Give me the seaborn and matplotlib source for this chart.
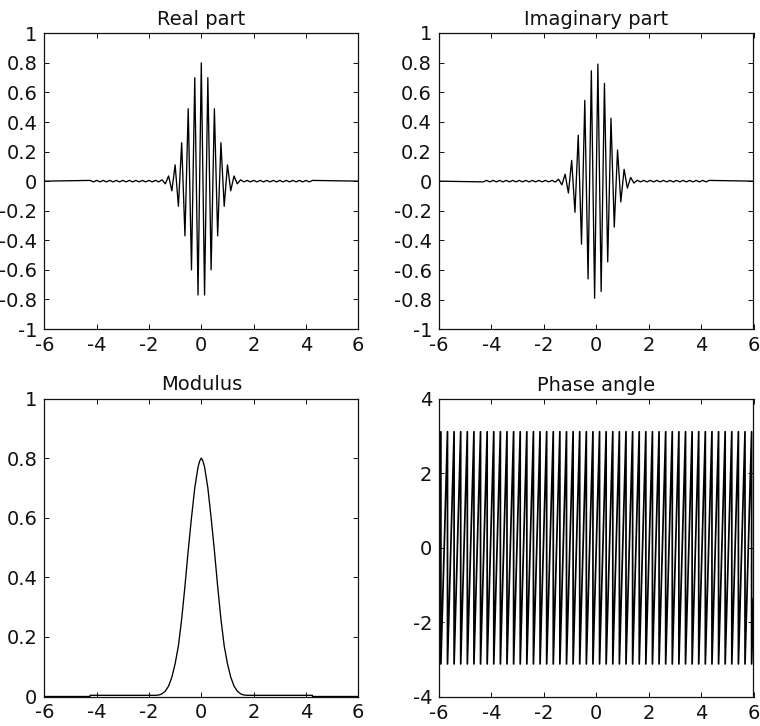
import matplotlib
matplotlib.use("Agg")
import numpy as np
import pandas as pd
import matplotlib.pyplot as plt
import seaborn as sns

# ---------------- data ----------------
# Real part: extrema of the oscillation (every half period), plus flat ends
real_x = [-6.0,
          -4.25, -4.125, -4.0, -3.875, -3.75, -3.625, -3.5, -3.375, -3.25, -3.125,
          -3.0, -2.875, -2.75, -2.625, -2.5, -2.375, -2.25, -2.125, -2.0, -1.875,
          -1.75, -1.625, -1.5, -1.375, -1.25, -1.125, -1.0, -0.875, -0.75, -0.625,
          -0.5, -0.375, -0.25, -0.125, 0.0, 0.125, 0.25, 0.375, 0.5, 0.625,
          0.75, 0.875, 1.0, 1.125, 1.25, 1.375, 1.5, 1.625, 1.75, 1.875,
          2.0, 2.125, 2.25, 2.375, 2.5, 2.625, 2.75, 2.875, 3.0, 3.125,
          3.25, 3.375, 3.5, 3.625, 3.75, 3.875, 4.0, 4.125, 4.25, 6.0]
real_y = [0.0,
          0.005, -0.005, 0.005, -0.005, 0.005, -0.005, 0.005, -0.005, 0.005, -0.005,
          0.005, -0.005, 0.005, -0.005, 0.005, -0.005, 0.005, -0.005, 0.005, -0.005,
          0.005, -0.005, 0.009, -0.018, 0.035, -0.065, 0.11, -0.17, 0.26, -0.37,
          0.49, -0.60, 0.70, -0.77, 0.80, -0.77, 0.70, -0.60, 0.49, -0.37,
          0.26, -0.17, 0.11, -0.065, 0.035, -0.018, 0.009, -0.005, 0.005, -0.005,
          0.005, -0.005, 0.005, -0.005, 0.005, -0.005, 0.005, -0.005, 0.005, -0.005,
          0.005, -0.005, 0.005, -0.005, 0.005, -0.005, 0.005, -0.005, 0.005, 0.0]

# Imaginary part: extrema of the oscillation, plus flat ends
imag_x = [-6.0,
          -4.3125, -4.1875, -4.0625, -3.9375, -3.8125, -3.6875, -3.5625, -3.4375, -3.3125, -3.1875,
          -3.0625, -2.9375, -2.8125, -2.6875, -2.5625, -2.4375, -2.3125, -2.1875, -2.0625, -1.9375,
          -1.8125, -1.6875, -1.5625, -1.4375, -1.3125, -1.1875, -1.0625, -0.9375, -0.8125, -0.6875,
          -0.5625, -0.4375, -0.3125, -0.1875, -0.0625, 0.0625, 0.1875, 0.3125, 0.4375, 0.5625,
          0.6875, 0.8125, 0.9375, 1.0625, 1.1875, 1.3125, 1.4375, 1.5625, 1.6875, 1.8125,
          1.9375, 2.0625, 2.1875, 2.3125, 2.4375, 2.5625, 2.6875, 2.8125, 2.9375, 3.0625,
          3.1875, 3.3125, 3.4375, 3.5625, 3.6875, 3.8125, 3.9375, 4.0625, 4.1875, 4.3125,
          6.0]
imag_y = [0.0,
          -0.005, 0.005, -0.005, 0.005, -0.005, 0.005, -0.005, 0.005, -0.005, 0.005,
          -0.005, 0.005, -0.005, 0.005, -0.005, 0.005, -0.005, 0.005, -0.005, 0.005,
          -0.005, 0.005, -0.006, 0.013, -0.025, 0.047, -0.08, 0.14, -0.21, 0.31,
          -0.425, 0.545, -0.66, 0.745, -0.79, 0.79, -0.745, 0.66, -0.545, 0.425,
          -0.31, 0.21, -0.14, 0.08, -0.047, 0.025, -0.013, 0.006, -0.005, 0.005,
          -0.005, 0.005, -0.005, 0.005, -0.005, 0.005, -0.005, 0.005, -0.005, 0.005,
          -0.005, 0.005, -0.005, 0.005, -0.005, 0.005, -0.005, 0.005, -0.005, 0.005,
          0.0]

# Modulus samples
mod_x = [-6.0, -4.25, -4.25, -1.75, -1.625, -1.5, -1.375, -1.25, -1.125, -1.0,
         -0.875, -0.75, -0.625, -0.5, -0.375, -0.25, -0.125, -0.0625, 0.0, 0.0625,
         0.125, 0.25, 0.375, 0.5, 0.625, 0.75, 0.875, 1.0, 1.125, 1.25,
         1.375, 1.5, 1.625, 1.75, 4.25, 4.25, 6.0]
mod_y = [0.0, 0.0, 0.004, 0.004, 0.005, 0.009, 0.018, 0.035, 0.065, 0.11,
         0.17, 0.26, 0.37, 0.49, 0.60, 0.70, 0.77, 0.79, 0.80, 0.79,
         0.77, 0.70, 0.60, 0.49, 0.37, 0.26, 0.17, 0.11, 0.065, 0.035,
         0.018, 0.009, 0.005, 0.004, 0.004, 0.0, 0.0]

# Phase angle: positions where the phase wraps from +pi to -pi
phase_wrap_x = [-5.928, -5.676, -5.424, -5.172, -4.919, -4.667, -4.415, -4.162,
                -3.910, -3.658, -3.406, -3.153, -2.901, -2.649, -2.397, -2.144,
                -1.892, -1.640, -1.388, -1.135, -0.883, -0.631, -0.378, -0.126,
                0.126, 0.378, 0.631, 0.883, 1.135, 1.388, 1.640, 1.892,
                2.144, 2.397, 2.649, 2.901, 3.153, 3.406, 3.658, 3.910,
                4.162, 4.415, 4.667, 4.919, 5.172, 5.424, 5.676, 5.928]
phase_high = 3.12
phase_low = -3.12
phase_left = 1.40
phase_right = -1.35

x_ticks = [-6, -4, -2, 0, 2, 4, 6]
ri_ticks = [-1, -0.8, -0.6, -0.4, -0.2, 0, 0.2, 0.4, 0.6, 0.8, 1]
ri_labels = ["-1", "-0.8", "-0.6", "-0.4", "-0.2", "0", "0.2", "0.4", "0.6", "0.8", "1"]
mod_ticks = [0, 0.2, 0.4, 0.6, 0.8, 1]
mod_labels = ["0", "0.2", "0.4", "0.6", "0.8", "1"]
ph_ticks = [-4, -2, 0, 2, 4]
ph_labels = ["-4", "-2", "0", "2", "4"]

# build the phase polyline from the wrap positions
ph_x = [-6.0]
ph_y = [phase_left]
for w in phase_wrap_x:
    ph_x += [w, w]
    ph_y += [phase_high, phase_low]
ph_x.append(6.0)
ph_y.append(phase_right)

# ---------------- style ----------------
sns.set_theme(style="ticks")
plt.rcParams['font.family'] = ['DejaVu Sans']
plt.rcParams['axes.unicode_minus'] = False

fig = plt.figure(figsize=(7.6, 7.26), dpi=100)
W, H = 760.0, 726.0

def make_ax(l, r, t, b):
    return fig.add_axes([l / W, 1 - b / H, (r - l) / W, (b - t) / H])

ax1 = make_ax(44.3, 358.3, 33.3, 329.0)
ax2 = make_ax(439.0, 753.5, 33.0, 329.3)
ax3 = make_ax(44.3, 358.3, 398.5, 696.5)
ax4 = make_ax(439.0, 753.5, 399.0, 696.7)

def draw(ax, x, y, title, yticks, ylabels, ylim, lw=0.95):
    df = pd.DataFrame({"x": x, "y": y})
    sns.lineplot(data=df, x="x", y="y", ax=ax, sort=False, estimator=None,
                 color="black", linewidth=lw)
    ax.set_xlim(-6, 6)
    ax.set_ylim(*ylim)
    ax.set_xticks(x_ticks)
    ax.set_xticklabels([str(v) for v in x_ticks])
    ax.set_yticks(yticks)
    ax.set_yticklabels(ylabels)
    ax.set_xlabel("")
    ax.set_ylabel("")
    ax.set_title(title, fontsize=14, pad=6, color="#111111")
    ax.tick_params(direction="in", top=True, right=True, length=3.5, width=0.7,
                   labelsize=14, pad=5, colors="#111111")
    for s in ax.spines.values():
        s.set_visible(True)
        s.set_color("#111111")
        s.set_linewidth(0.9)

draw(ax1, real_x, real_y, "Real part", ri_ticks, ri_labels, (-1, 1))
draw(ax2, imag_x, imag_y, "Imaginary part", ri_ticks, ri_labels, (-1, 1))
draw(ax3, mod_x, mod_y, "Modulus", mod_ticks, mod_labels, (0, 1))
draw(ax4, ph_x, ph_y, "Phase angle", ph_ticks, ph_labels, (-4, 4), lw=1.25)

fig.savefig("out.png", dpi=100, facecolor="white")
